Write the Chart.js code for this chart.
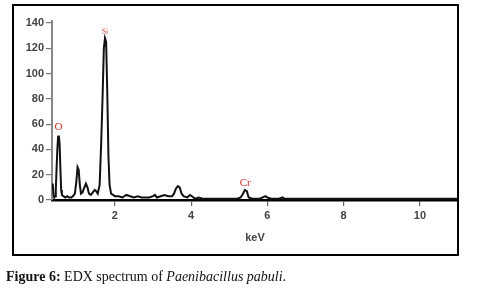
<!DOCTYPE html>
<html><head><meta charset="utf-8">
<script src="https://cdn.jsdelivr.net/npm/chart.js@4/dist/chart.umd.min.js"></script>
<style>
html,body{margin:0;padding:0;background:#fff;width:477px;height:289px;overflow:hidden;}
#box{position:absolute;left:12px;top:4px;width:443px;height:248px;border:2.5px solid #000;}
#wrap{position:absolute;left:0;top:0;width:477px;height:289px;}
#cap{position:absolute;left:6px;top:269px;font-family:"Liberation Serif","DejaVu Serif",serif;font-size:14px;color:#111;white-space:nowrap;}
</style></head><body>
<div id="box"></div>
<div id="wrap"><canvas id="c" width="477" height="289"></canvas></div>
<div id="cap"><b>Figure 6:</b> EDX spectrum of <i>Paenibacillus pabuli</i>.</div>
<script>
const keV = [0.35,0.37,0.39,0.41,0.43,0.45,0.47,0.49,0.51,0.53,0.55,0.57,0.59,0.61,0.65,0.70,0.75,0.80,0.85,0.90,0.95,0.99,1.02,1.05,1.08,1.11,1.15,1.20,1.24,1.28,1.32,1.37,1.42,1.47,1.51,1.55,1.60,1.64,1.68,1.71,1.74,1.77,1.80,1.83,1.86,1.90,1.95,2.00,2.10,2.20,2.30,2.40,2.50,2.60,2.70,2.80,2.90,3.00,3.05,3.10,3.20,3.30,3.40,3.50,3.55,3.60,3.65,3.70,3.75,3.80,3.90,3.97,4.02,4.10,4.20,4.30,4.40,4.50,4.60,4.70,4.80,5.00,5.20,5.30,5.36,5.41,5.46,5.51,5.60,5.80,5.95,6.00,6.10,6.30,6.40,6.45,6.60,7.00,7.50,8.00,8.50,9.00,9.50,10.00,10.50,11.00];
const counts = [12,13,4,2,3,8,25,40,50,51,44,25,8,4,3,2,3,2,2,3,5,15,26,24,12,5,6,10,13,10,5,4,6,8,7,5,12,45,85,120,128,125,85,35,12,5,4,3,3,2,4,3,2,3,2,2,2,3,4,2,3,4,3,3,5,9,11,10,5,3,2,4,3,1,2,1,1,1,1,1,1,1,1,2,5,8,7,2,1,1,3,2,1,1,2,1,1,1,1,1,1,1,1,1,1,1];
const yTicks = [0,20,40,60,80,100,120,140];
const xTicks = [2,4,6,8,10];
const peakLabels = ["O","Si","Cr"];
const peakKeV = [0.52,1.74,5.42];
const peakY = [58,133,13.5];

const labelPlugin = {
  id:'peakLabels',
  afterDatasetsDraw(chart){
    const ctx = chart.ctx, xs = chart.scales.x, ys = chart.scales.y;
    ctx.save();
    ctx.textAlign = 'center'; ctx.textBaseline = 'middle';
    peakLabels.forEach((t,i)=>{
      ctx.fillStyle = t==='Si' ? '#d85a5a' : '#d42a2a';
      ctx.font = (t==='Si' ? '8px' : '11px') + ' "Liberation Serif", serif';
      ctx.fillText(t, xs.getPixelForValue(peakKeV[i]), ys.getPixelForValue(peakY[i]));
    });
    ctx.restore();
  }
};

new Chart(document.getElementById('c'), {
  type:'scatter',
  data:{datasets:[{
    data: keV.map((k,i)=>({x:k,y:counts[i]})),
    showLine:true, borderColor:'#111', borderWidth:2, pointRadius:0, tension:0, fill:false
  }]},
  options:{
    responsive:false, animation:false, devicePixelRatio:1,
    plugins:{legend:{display:false}, tooltip:{enabled:false}},
    layout:{padding:{left:0,right:19,top:20.5,bottom:44}},
    scales:{
      x:{type:'linear', min:0.35, max:11,
        afterBuildTicks(s){ s.ticks = xTicks.map(v=>({value:v})); },
        afterFit(s){ s.height = 45; },
        border:{display:true,color:'#000',width:2.5},
        grid:{drawOnChartArea:false, drawTicks:true, tickLength:6, color:'#666', lineWidth:1.2},
        ticks:{color:'#444', padding:3, maxRotation:0, font:{family:'"Liberation Sans Narrow","Liberation Sans",Arial,sans-serif', size:11, weight:'bold'}},
        title:{display:true, text:'keV', color:'#444', padding:{top:5,bottom:0}, font:{family:'"Liberation Sans",Arial,sans-serif', size:11, weight:'bold'}}
      },
      y:{type:'linear', min:0, max:142,
        afterBuildTicks(s){ s.ticks = yTicks.map(v=>({value:v})); },
        afterFit(s){ s.width = 52; },
        border:{display:true,color:'#888',width:2},
        grid:{drawOnChartArea:false, drawTicks:true, tickLength:6, color:'#777', lineWidth:1.2},
        ticks:{color:'#444', padding:2, font:{family:'"Liberation Sans Narrow","Liberation Sans",Arial,sans-serif', size:11, weight:'bold'}}
      }
    }
  },
  plugins:[labelPlugin]
});
</script>
</body></html>
